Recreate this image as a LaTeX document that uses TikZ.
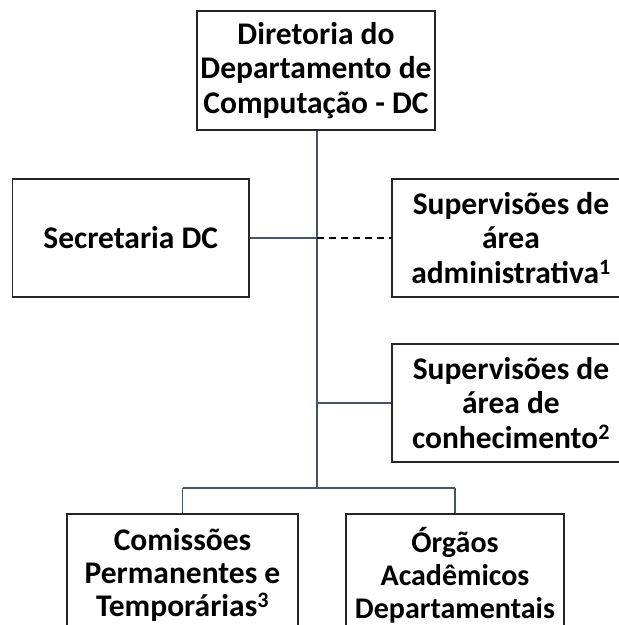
\documentclass[tikz,border=0pt]{standalone}
\usepackage{fontspec}
\setmainfont{Carlito}
\definecolor{conn}{HTML}{44546A}
\definecolor{boxline}{HTML}{262626}
\begin{document}
\begin{tikzpicture}[x=1pt,y=-1pt,
  orgbox/.style={draw=boxline,line width=1.8pt,fill=white,align=center,
    font=\fontsize{31.5}{34.5}\selectfont\bfseries,inner sep=0pt},
  lowbox/.style={orgbox,font=\fontsize{31.5}{33}\selectfont\bfseries},
  narrowbox/.style={orgbox,font=\fontsize{30}{33}\selectfont\bfseries},
  link/.style={draw=conn,line width=1.8pt},
  dashlink/.style={draw=black,line width=1.5pt,dash pattern=on 7pt off 5pt}]
\useasboundingbox (0,0) rectangle (619,625);
\begin{scope}
\clip (0,0) rectangle (619,625);
\node[orgbox,minimum width=238pt,minimum height=119.5pt] (dir) at (316,70.5)
  {Diretoria do\\Departamento de\\Computação - DC};
\node[orgbox,minimum width=236.5pt,minimum height=118pt] (sec) at (130.8,238)
  {Secretaria DC};
\node[orgbox,minimum width=238pt,minimum height=118pt] (adm) at (511,238)
  {Supervisões de\\área\\administrativa\textsuperscript{1}};
\node[orgbox,minimum width=238pt,minimum height=118pt] (con) at (511,403)
  {Supervisões de\\área de\\conhecimento\textsuperscript{2}};
\node[lowbox,minimum width=231pt,minimum height=122pt,anchor=north] (com) at (182.5,513)
  {Comissões\\Permanentes e\\Temporárias\textsuperscript{3}};
\node[narrowbox,minimum width=218pt,minimum height=122pt,anchor=north] (org) at (455,513)
  {Órgãos\\Acadêmicos\\Departamentais};
\coordinate (jA) at (316.7,238);
\coordinate (jB) at (316.7,403);
\coordinate (jC) at (316.7,488);
\coordinate (jL) at (182.5,488);
\coordinate (jR) at (455,488);
\draw[link] (dir.south -| jC) -- (jC);
\draw[link] (sec.east) -- (jA);
\draw[dashlink] (jA) -- (adm.west);
\draw[link] (jB) -- (con.west);
\draw[link] (jL) -- (jR);
\draw[link] (jL) -- (com.north);
\draw[link] (jR) -- (org.north);
\end{scope}
\end{tikzpicture}
\end{document}
